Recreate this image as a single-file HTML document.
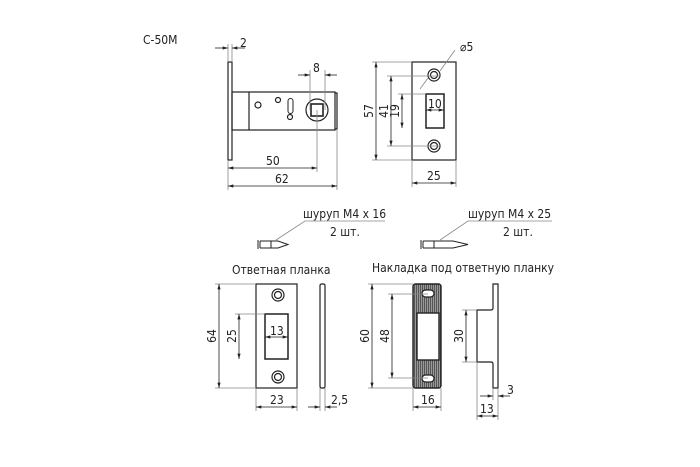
<!DOCTYPE html>
<html><head><meta charset="utf-8"><style>html,body{margin:0;padding:0;background:#fff}svg{display:block}text{font-family:"DejaVu Sans Condensed","DejaVu Sans","Liberation Sans",sans-serif;font-size:12px;fill:#222}</style></head><body>
<svg width="700" height="467" viewBox="0 0 700 467" xmlns="http://www.w3.org/2000/svg">
<defs>
<marker id="a" viewBox="0 0 10 6" refX="10" refY="3" markerWidth="7" markerHeight="4" orient="auto-start-reverse"><path d="M0 0L10 3L0 6z" fill="#222"/></marker>
<pattern id="h" width="2" height="4" patternUnits="userSpaceOnUse"><rect width="2" height="4" fill="#9a9a9a"/><rect width="1" height="4" fill="#555"/></pattern>
</defs>
<g stroke="#222" fill="none" stroke-width="1.2">
<!-- latch side -->
<rect x="228" y="62" width="4" height="98" fill="#fff"/>
<rect x="232" y="92" width="103" height="38"/>
<line x1="249" y1="92" x2="249" y2="130"/>
<path d="M335 93h2v36h-2"/>
<circle cx="258" cy="105" r="3"/>
<circle cx="278" cy="100" r="2.5"/>
<path d="M288 101a2.5 2.5 0 0 1 5 0v10a2.5 2.5 0 0 1-5 0z" stroke-width="1"/>
<circle cx="290" cy="117" r="2.5"/>
<circle cx="317" cy="110" r="11"/>
<rect x="311" y="104" width="12" height="12" stroke-width="1.6"/>
<!-- face plate -->
<rect x="412" y="62" width="44" height="98"/>
<circle cx="434" cy="75" r="6"/><circle cx="434" cy="75" r="3.5"/>
<circle cx="434" cy="146" r="6"/><circle cx="434" cy="146" r="3.5"/>
<rect x="426" y="94" width="18" height="34" stroke-width="1.5"/>
<!-- strike plate -->
<rect x="256" y="284" width="41" height="104"/>
<circle cx="278" cy="295" r="6"/><circle cx="278" cy="295" r="3.5"/>
<circle cx="278" cy="377" r="6"/><circle cx="278" cy="377" r="3.5"/>
<rect x="265" y="314" width="23" height="45" stroke-width="1.5"/>
<rect x="320" y="284" width="5" height="104" rx="1.5"/>
<!-- overlay -->
<rect x="413" y="284" width="28" height="104" rx="2.5" fill="url(#h)" stroke-width="1.4"/>
<rect x="417" y="313" width="22" height="47" fill="#fff" stroke-width="1.4"/>
<rect x="422" y="290" width="12" height="7" rx="3.5" fill="#fff"/>
<rect x="422" y="375" width="12" height="7" rx="3.5" fill="#fff"/>
<path d="M493 284v24q0 2-2 2h-14v52h14q2 0 2 2v24h5v-104z"/>
<!-- screws -->
<path d="M258 240v9M260 241v7M260 241h18l10 3.5l-10 3.5h-18M271 241v7" stroke-width="1"/>
<path d="M421 240v9M423 241v7M423 241h30l15 3.5l-15 3.5h-30M434 241v7" stroke-width="1"/>
</g>
<g stroke="#888" stroke-width="0.8" fill="none">
<path d="M276 240L305 221H385M440 240L468 221H552"/>
<!-- ext lines -->
<path d="M228 62V44M232 62V44M310 110V70M325 110V70M228 160V190M317 110V172M337 130V190"/>
<path d="M412 62H372M441 76H387M426 94H398M412 160H372M441 146H387M412 160V187M456 160V187"/>
<path d="M256 284H215M265 314H235M256 388H215M256 388V411M297 388V411M320 388V411M325 388V411"/>
<path d="M413 284H368M428 294H388M428 378H388M413 388H368M413 388V411M441 388V411M477 310H462M477 362H462M477 362V420M493 388V400M498 388V420"/>
<line x1="428" y1="78" x2="420" y2="89"/><line x1="440" y1="71" x2="455" y2="50"/>
</g>
<g stroke="#222" stroke-width="0.8" fill="none">
<line x1="215" y1="48" x2="228" y2="48" marker-end="url(#a)"/><line x1="245" y1="48" x2="232" y2="48" marker-end="url(#a)"/>
<line x1="298" y1="75" x2="310" y2="75" marker-end="url(#a)"/><line x1="337" y1="75" x2="325" y2="75" marker-end="url(#a)"/>
<line x1="228" y1="168" x2="317" y2="168" marker-start="url(#a)" marker-end="url(#a)"/>
<line x1="228" y1="186" x2="337" y2="186" marker-start="url(#a)" marker-end="url(#a)"/>
<line x1="376" y1="62" x2="376" y2="160" marker-start="url(#a)" marker-end="url(#a)"/>
<line x1="391" y1="76" x2="391" y2="146" marker-start="url(#a)" marker-end="url(#a)"/>
<line x1="402" y1="94" x2="402" y2="128" marker-start="url(#a)" marker-end="url(#a)"/>
<line x1="426" y1="110" x2="444" y2="110" marker-start="url(#a)" marker-end="url(#a)"/>
<line x1="412" y1="183" x2="456" y2="183" marker-start="url(#a)" marker-end="url(#a)"/>
<line x1="219" y1="284" x2="219" y2="388" marker-start="url(#a)" marker-end="url(#a)"/>
<line x1="239" y1="314" x2="239" y2="359" marker-start="url(#a)" marker-end="url(#a)"/>
<line x1="265" y1="337" x2="288" y2="337" marker-start="url(#a)" marker-end="url(#a)"/>
<line x1="256" y1="407" x2="297" y2="407" marker-start="url(#a)" marker-end="url(#a)"/>
<line x1="308" y1="407" x2="320" y2="407" marker-end="url(#a)"/><line x1="337" y1="407" x2="325" y2="407" marker-end="url(#a)"/>
<line x1="372" y1="284" x2="372" y2="388" marker-start="url(#a)" marker-end="url(#a)"/>
<line x1="392" y1="294" x2="392" y2="378" marker-start="url(#a)" marker-end="url(#a)"/>
<line x1="413" y1="407" x2="441" y2="407" marker-start="url(#a)" marker-end="url(#a)"/>
<line x1="466" y1="310" x2="466" y2="362" marker-start="url(#a)" marker-end="url(#a)"/>
<line x1="480" y1="396" x2="493" y2="396" marker-end="url(#a)"/><line x1="510" y1="396" x2="498" y2="396" marker-end="url(#a)"/>
<line x1="477" y1="416" x2="498" y2="416" marker-start="url(#a)" marker-end="url(#a)"/>
</g>
<text x="143" y="44">С-50М</text>
<text x="240" y="47">2</text>
<text x="313" y="72">8</text>
<text x="266" y="165">50</text>
<text x="275" y="183">62</text>
<text x="460" y="51">⌀5</text>
<text x="428" y="108" font-size="11">10</text>
<text x="427" y="180">25</text>
<text transform="translate(373 111) rotate(-90)" text-anchor="middle">57</text>
<text transform="translate(388 111) rotate(-90)" text-anchor="middle">41</text>
<text transform="translate(399 111) rotate(-90)" text-anchor="middle">19</text>
<text x="303" y="218">шуруп М4 х 16</text><text x="330" y="236">2 шт.</text>
<text x="468" y="218">шуруп М4 х 25</text><text x="503" y="236">2 шт.</text>
<text x="232" y="274">Ответная планка</text>
<text x="372" y="272">Накладка под ответную планку</text>
<text transform="translate(216 336) rotate(-90)" text-anchor="middle">64</text>
<text transform="translate(236 336) rotate(-90)" text-anchor="middle">25</text>
<text x="270" y="335">13</text>
<text x="270" y="404">23</text>
<text x="331" y="404">2,5</text>
<text transform="translate(369 336) rotate(-90)" text-anchor="middle">60</text>
<text transform="translate(389 336) rotate(-90)" text-anchor="middle">48</text>
<text x="421" y="404">16</text>
<text transform="translate(463 336) rotate(-90)" text-anchor="middle">30</text>
<text x="507" y="394">3</text>
<text x="480" y="413">13</text>
</svg>
</body></html>
